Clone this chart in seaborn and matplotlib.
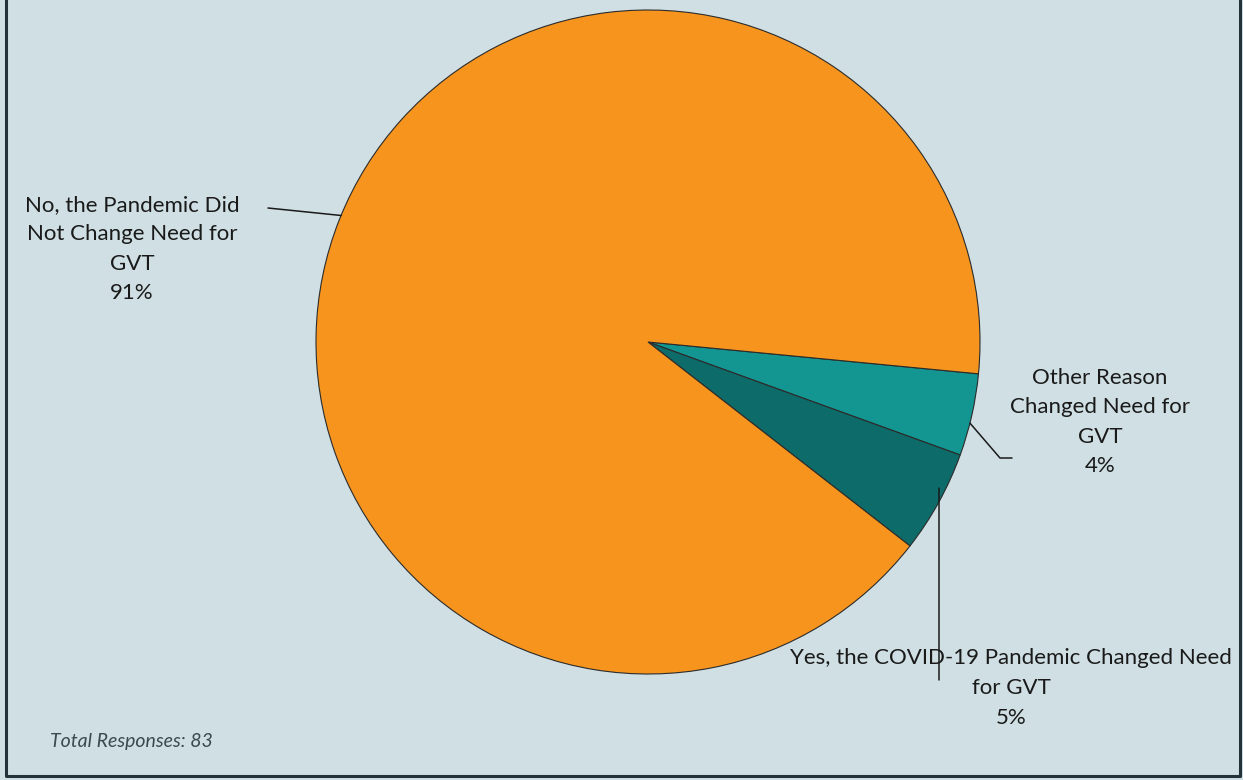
import numpy as np
import matplotlib
matplotlib.use("Agg")
import matplotlib.pyplot as plt
from matplotlib.lines import Line2D
import seaborn as sns

# Survey responses: did the pandemic change the need for GVT?
categories = [
    "Other Reason\nChanged Need for\nGVT",
    "Yes, the COVID-19 Pandemic Changed Need\nfor GVT",
    "No, the Pandemic Did\nNot Change Need for\nGVT",
]
percents = [4, 5, 91]
total_responses = 83

sns.set_theme(style="white")
plt.rcParams["font.family"] = ["Lato", "DejaVu Sans"]

BG = "#CFDFE3"
colors = ["#139591", "#0D6B69", "#F7941D"]

W, H = 1243, 780
fig = plt.figure(figsize=(W / 100, H / 100), dpi=100, facecolor=BG)
ax = fig.add_axes([0, 0, 1, 1])
ax.set_facecolor(BG)

cx, cy, r = 648, 438, 332
wedges, _ = ax.pie(
    percents,
    colors=colors,
    startangle=-5.5,
    counterclock=False,
    center=(cx, cy),
    radius=r,
    frame=True,
    wedgeprops=dict(edgecolor="#2b2b2b", linewidth=0.8),
)
ax.set_xlim(0, W)
ax.set_ylim(0, H)
ax.set_aspect("equal")
ax.axis("off")


def edge_point(wedge, frac=0.5):
    a = np.deg2rad(wedge.theta1 + (wedge.theta2 - wedge.theta1) * frac)
    return cx + r * np.cos(a), cy + r * np.sin(a)


fs = 16
ls = 1.6
tc = "#1a1a1a"
lc = "#1a1a1a"

# Other Reason (4%)
px, py = edge_point(wedges[0], 0.4)
ax.plot([px, 1000, 1012], [py, H - 458, H - 458], color=lc, lw=1.1)
ax.text(1100, H - 422, f"{categories[0]}\n{percents[0]}%", ha="center", va="center",
        fontsize=fs, color=tc, linespacing=ls)

# Yes (5%)
ax.plot([939, 939], [H - 488, H - 680], color=lc, lw=1.1)
ax.text(1011, H - 688, f"{categories[1]}\n{percents[1]}%", ha="center", va="center",
        fontsize=fs, color=tc, linespacing=ls)

# No (91%)
a = np.deg2rad(157.6)
px, py = cx + r * np.cos(a), cy + r * np.sin(a)
ax.plot([268, px], [H - 208, py], color=lc, lw=1.1)
ax.text(132, H - 249, f"{categories[2]}\n{percents[2]}%", ha="center", va="center",
        fontsize=fs, color=tc, linespacing=ls)

ax.text(50, H - 741, f"Total Responses: {total_responses}", ha="left", va="center",
        fontsize=14, color="#3a4a50", style="italic")

# Frame on the left, right and bottom of the chart area
x0, x1, y0 = 6 / W, 1240 / W, 4 / H
fig.lines.append(Line2D([x0, x0, x1, x1], [1.0, y0, y0, 1.0], transform=fig.transFigure,
                        color="#23323a", linewidth=2.2))

fig.savefig("out.png", dpi=100, facecolor=BG)
